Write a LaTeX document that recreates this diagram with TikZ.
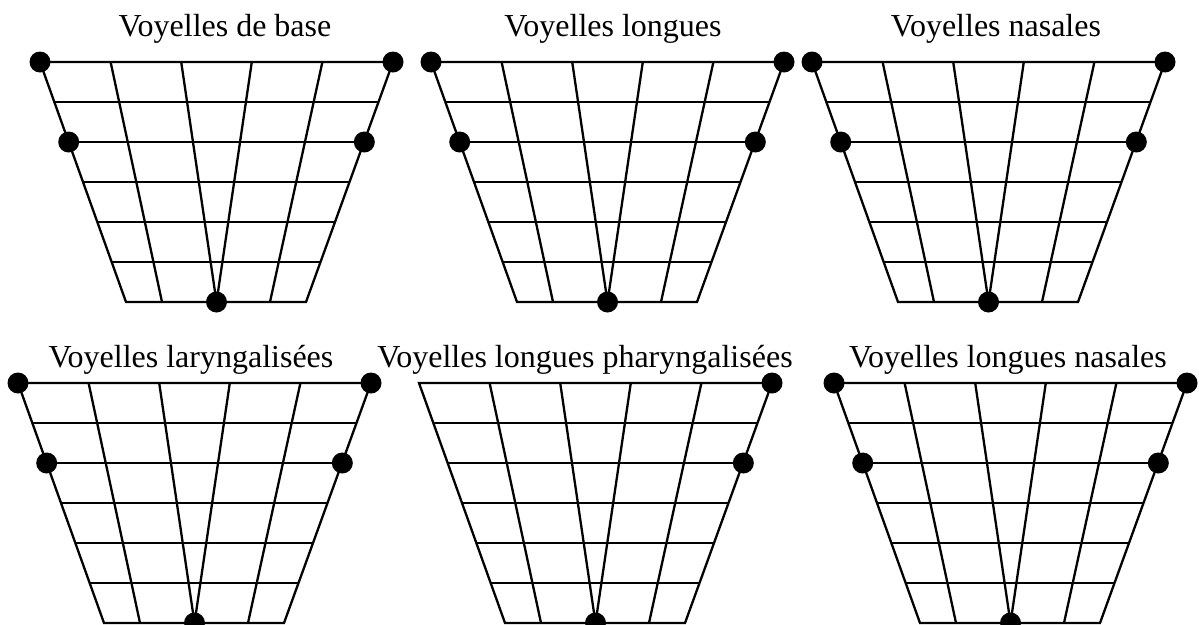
\documentclass[tikz,border=0pt]{standalone}
\usepackage{fontspec}
\setmainfont{Liberation Serif}
\usepackage{tikz}

% one vowel chart, top-left corner at (0,0)
\newcommand{\voygrid}{%
  \draw (0,0) -- (353,0) -- (266,240) -- (86,240) -- cycle;
  \foreach \r in {1,...,5}
    \draw ({86*\r/6},{40*\r}) -- ({353-86*\r/6},{40*\r});
  \draw (70.6,0) -- (122,240);
  \draw (141.2,0) -- (176.5,240);
  \draw (211.8,0) -- (176.5,240);
  \draw (282.4,0) -- (230,240);
}

\begin{document}
\begin{tikzpicture}[x=1pt, y=-1pt, line width=2.3pt,
  voy/.style={circle, fill=black, inner sep=0pt, minimum size=21pt},
  titre/.style={anchor=base, inner sep=0pt, font=\fontsize{32}{38}\selectfont}]
  \useasboundingbox (0,0) rectangle (1199,624);

  % top row
  \node[titre] (t1) at (225,36) {Voyelles de base};
  \begin{scope}[shift={(40,62)}]
    \voygrid
    \node[voy] (a1) at (0,0) {};
    \node[voy] (a2) at (353,0) {};
    \node[voy] (a3) at (28.7,80) {};
    \node[voy] (a4) at (324.3,80) {};
    \node[voy] (a5) at (176.5,240) {};
  \end{scope}

  \node[titre] (t2) at (613,36) {Voyelles longues};
  \begin{scope}[shift={(431,62)}]
    \voygrid
    \node[voy] (b1) at (0,0) {};
    \node[voy] (b2) at (353,0) {};
    \node[voy] (b3) at (28.7,80) {};
    \node[voy] (b4) at (324.3,80) {};
    \node[voy] (b5) at (176.5,240) {};
  \end{scope}

  \node[titre] (t3) at (996,36) {Voyelles nasales};
  \begin{scope}[shift={(812,62)}]
    \voygrid
    \node[voy] (c1) at (0,0) {};
    \node[voy] (c2) at (353,0) {};
    \node[voy] (c3) at (28.7,80) {};
    \node[voy] (c4) at (324.3,80) {};
    \node[voy] (c5) at (176.5,240) {};
  \end{scope}

  % bottom row
  \node[titre] (t4) at (191,367) {Voyelles laryngalisées};
  \begin{scope}[shift={(18,383)}]
    \voygrid
    \node[voy] (d1) at (0,0) {};
    \node[voy] (d2) at (353,0) {};
    \node[voy] (d3) at (28.7,80) {};
    \node[voy] (d4) at (324.3,80) {};
    \node[voy] (d5) at (176.5,240) {};
  \end{scope}

  \node[titre] (t5) at (585,367) {Voyelles longues pharyngalisées};
  \begin{scope}[shift={(419,383)}]
    \voygrid
    \node[voy] (e2) at (353,0) {};
    \node[voy] (e4) at (324.3,80) {};
    \node[voy] (e5) at (176.5,240) {};
  \end{scope}

  \node[titre] (t6) at (1008,367) {Voyelles longues nasales};
  \begin{scope}[shift={(834,383)}]
    \voygrid
    \node[voy] (f1) at (0,0) {};
    \node[voy] (f2) at (353,0) {};
    \node[voy] (f3) at (28.7,80) {};
    \node[voy] (f4) at (324.3,80) {};
    \node[voy] (f5) at (176.5,240) {};
  \end{scope}
\end{tikzpicture}
\end{document}
